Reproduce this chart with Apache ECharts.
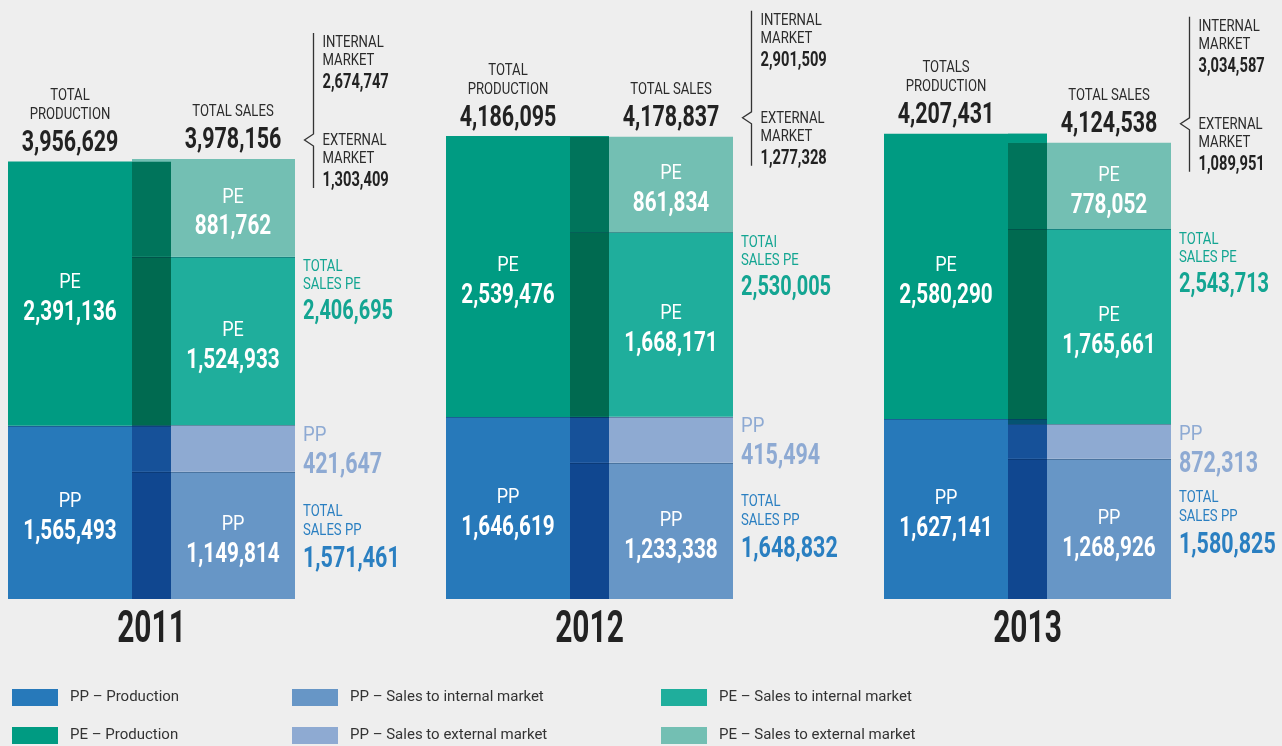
<!DOCTYPE html>
<html>
<head>
<meta charset="utf-8">
<script src="https://cdn.jsdelivr.net/npm/echarts@6/dist/echarts.min.js"></script>
<style>
  html, body { margin: 0; padding: 0; background: #eeeeee; }
  #chart { width: 1282px; height: 746px; }
</style>
</head>
<body>
<div id="chart"></div>
<script>
// values (tonnes)
var years = ['2011', '2012', '2013'];
var ppProduction = [1565493, 1646619, 1627141];
var peProduction = [2391136, 2539476, 2580290];
var ppSalesInternal = [1149814, 1233338, 1268926];
var ppSalesExternal = [421647, 415494, 311899];
var peSalesInternal = [1524933, 1668171, 1765661];
var peSalesExternal = [881762, 861834, 778052];
// printed texts as in the source (incl. its typos)
var ppExternalText = ['421,647', '415,494', '872,313'];
var productionTitle = ['TOTAL', 'TOTAL', 'TOTALS'];
var salesPeTitle = ['TOTAL', 'TOTAI', 'TOTAL'];

var FONT = "Roboto, 'Liberation Sans', sans-serif";
var BAR = 163;      // bar width px
var OVER = 39;      // overlap of production and sales bars
var SX_NUM = 0.74;  // squeeze to mimic the condensed face
var SX_TXT = 0.82;
var colors = {
  ppProd: '#2779ba', peProd: '#009b82',
  ppInt: '#6796c6', ppExt: '#8eaad2',
  peInt: '#1fae9c', peExt: '#73bfb3'
};

function fmt(v) { return v.toLocaleString('en-US'); }

function multiply(a, b) {
  var out = '#';
  for (var k = 1; k < 7; k += 2) {
    var v = Math.round(parseInt(a.substr(k, 2), 16) * parseInt(b.substr(k, 2), 16) / 255);
    out += ('0' + v.toString(16)).slice(-2);
  }
  return out;
}

// cumulative stacks: [[top, color], ...]
function stackOf(parts) {
  var sum = 0;
  return parts.map(function (p) { sum += p[0]; return [sum, p[1]]; });
}
function colorAt(stack, v) {
  for (var k = 0; k < stack.length; k++) if (v < stack[k][0]) return stack[k][1];
  return null;
}
function prodStack(i) {
  return stackOf([[ppProduction[i], colors.ppProd], [peProduction[i], colors.peProd]]);
}
function salesStack(i) {
  return stackOf([[ppSalesInternal[i], colors.ppInt], [ppSalesExternal[i], colors.ppExt],
                  [peSalesInternal[i], colors.peInt], [peSalesExternal[i], colors.peExt]]);
}

function barSeries(name, stack, data, color) {
  return {
    name: name, type: 'bar', stack: stack, data: data,
    barWidth: BAR, barGap: (-OVER / BAR * 100) + '%',
    itemStyle: { color: color }
  };
}

// darker column where production and sales bars overlap
function renderOverlap(params, api) {
  var i = params.dataIndex;
  var cx = api.coord([i, 0])[0];
  var ps = prodStack(i), ss = salesStack(i);
  var edges = [0];
  ps.concat(ss).forEach(function (s) { if (edges.indexOf(s[0]) < 0) edges.push(s[0]); });
  edges.sort(function (a, b) { return a - b; });
  var children = [];
  for (var k = 0; k < edges.length - 1; k++) {
    var lo = edges[k], hi = edges[k + 1], mid = (lo + hi) / 2;
    var pc = colorAt(ps, mid), sc = colorAt(ss, mid);
    var fill = pc && sc ? multiply(pc, sc) : (pc || sc);
    var yTop = api.coord([i, hi])[1], yBot = api.coord([i, lo])[1];
    children.push({ type: 'rect', shape: { x: cx - OVER / 2, y: yTop, width: OVER, height: yBot - yTop }, style: { fill: fill } });
  }
  // thin seams between stacked pieces
  ss.slice(0, 3).forEach(function (s) {
    var y = Math.round(api.coord([i, s[0]])[1]) + 0.5;
    children.push({ type: 'line', shape: { x1: cx - OVER / 2, y1: y, x2: cx + BAR - OVER / 2, y2: y },
      style: { stroke: 'rgba(0,30,60,0.28)', lineWidth: 1 } });
  });
  var yp = Math.round(api.coord([i, ps[0][0]])[1]) + 0.5;
  children.push({ type: 'line', shape: { x1: cx - BAR + OVER / 2, y1: yp, x2: cx + OVER / 2, y2: yp },
    style: { stroke: 'rgba(0,30,60,0.28)', lineWidth: 1 } });
  return { type: 'group', children: children };
}

// text placed by its baseline, squeezed horizontally
function txt(x, baseline, s, size, weight, color, align, sx) {
  return {
    type: 'text', x: x, y: baseline - size * 0.26, scaleX: sx,
    style: { text: s, fill: color, font: weight + ' ' + size + 'px ' + FONT, align: align || 'left', verticalAlign: 'middle' }
  };
}
function segLabel(x, yTop, yBot, tag, value) {
  var mid = (yTop + yBot) / 2;
  return [
    txt(x, mid - 5, tag, 20, 'normal', '#fff', 'center', 0.9),
    txt(x, mid + 27, value, 28, 'bold', '#fff', 'center', SX_NUM)
  ];
}

// labels in the bars, totals above, figures on the right and the market brace
function renderNotes(params, api) {
  var i = params.dataIndex;
  var base = api.coord([i, 0]);
  var cx = base[0], y0 = base[1];
  var ps = prodStack(i), ss = salesStack(i);
  var prodMid = api.coord([i, ps[0][0]])[1];
  var prodTop = api.coord([i, ps[1][0]])[1];
  var salesTop = api.coord([i, ss[3][0]])[1];
  var peIntTop = api.coord([i, ss[2][0]])[1];
  var ppExtTop = api.coord([i, ss[1][0]])[1];
  var ppIntTop = api.coord([i, ss[0][0]])[1];
  var pMid = cx - OVER / 2 - (BAR - OVER) / 2;
  var sMid = cx + OVER / 2 + (BAR - OVER) / 2;
  var right = cx + BAR - OVER / 2 + 8;
  var ink = '#2b2b2b';
  var internal = ppSalesInternal[i] + peSalesInternal[i];
  var external = ppSalesExternal[i] + peSalesExternal[i];
  var c = [].concat(
    segLabel(pMid, prodMid, y0, 'PP', fmt(ppProduction[i])),
    segLabel(pMid, prodTop, prodMid, 'PE', fmt(peProduction[i])),
    segLabel(sMid, ppIntTop, y0, 'PP', fmt(ppSalesInternal[i])),
    segLabel(sMid, peIntTop, ppExtTop, 'PE', fmt(peSalesInternal[i])),
    segLabel(sMid, salesTop, peIntTop, 'PE', fmt(peSalesExternal[i])),
    [
      txt(pMid, prodTop - 61, productionTitle[i], 16, 'normal', ink, 'center', SX_TXT),
      txt(pMid, prodTop - 42, 'PRODUCTION', 16, 'normal', ink, 'center', SX_TXT),
      txt(pMid, prodTop - 10, fmt(ps[1][0]), 29, 'bold', '#222', 'center', SX_NUM),
      txt(sMid, salesTop - 43, 'TOTAL SALES', 16, 'normal', ink, 'center', SX_TXT),
      txt(sMid, salesTop - 11, fmt(ss[3][0]), 29, 'bold', '#222', 'center', SX_NUM),

      txt(right, peIntTop + 15, salesPeTitle[i], 16, 'normal', '#13a592', 'left', SX_TXT),
      txt(right, peIntTop + 33, 'SALES PE', 16, 'normal', '#13a592', 'left', SX_TXT),
      txt(right, peIntTop + 63, fmt(peSalesInternal[i] + peSalesExternal[i]), 27, 'bold', '#13a592', 'left', SX_NUM),

      txt(right, ppExtTop + 16, 'PP', 21, 'normal', '#8eaad3', 'left', 0.88),
      txt(right, ppExtTop + 48, ppExternalText[i], 29, 'bold', '#8eaad3', 'left', SX_NUM),

      txt(right, ppIntTop + 44, 'TOTAL', 16, 'normal', '#2a7fc1', 'left', SX_TXT),
      txt(right, ppIntTop + 63, 'SALES PP', 16, 'normal', '#2a7fc1', 'left', SX_TXT),
      txt(right, ppIntTop + 95, fmt(ppSalesInternal[i] + ppSalesExternal[i]), 29, 'bold', '#2a7fc1', 'left', SX_NUM),

      txt(cx, y0 + 43, years[i], 44, 'bold', '#222', 'center', 0.68)
    ]
  );
  var lx = Math.round(cx + BAR - OVER / 2 + 18) + 0.5, n = salesTop - 19;
  c.push({ type: 'polyline', shape: { points: [[lx, salesTop - 126], [lx, n - 6], [lx - 9, n], [lx, n + 6], [lx, salesTop + 29]] },
    style: { stroke: '#333', lineWidth: 1.3, fill: null } });
  var tx = lx + 9;
  c.push(txt(tx, salesTop - 112, 'INTERNAL', 16, 'normal', ink, 'left', SX_TXT));
  c.push(txt(tx, salesTop - 94, 'MARKET', 16, 'normal', ink, 'left', SX_TXT));
  c.push(txt(tx, salesTop - 71, fmt(internal), 21, 'bold', '#222', 'left', 0.7));
  c.push(txt(tx, salesTop - 14, 'EXTERNAL', 16, 'normal', ink, 'left', SX_TXT));
  c.push(txt(tx, salesTop + 4, 'MARKET', 16, 'normal', ink, 'left', SX_TXT));
  c.push(txt(tx, salesTop + 27, fmt(external), 21, 'bold', '#222', 'left', 0.7));
  return { type: 'group', children: c };
}

var legendText = { fontFamily: FONT, fontSize: 15, color: '#333', lineHeight: 17, padding: [0, 0, 0, 7] };
function legendCol(left, names) {
  return { data: names, left: left, top: 689, padding: 0, orient: 'vertical', itemWidth: 46, itemHeight: 17, itemGap: 21,
    icon: 'rect', selectedMode: false, textStyle: legendText };
}

var chart = echarts.init(document.getElementById('chart'));
chart.setOption({
  backgroundColor: '#eeeeee',
  animation: false,
  grid: { left: -67.5, right: 35.5, top: 46, bottom: 147, outerBoundsMode: 'none' },
  legend: [
    legendCol(12, ['PP – Production', 'PE – Production']),
    legendCol(292, ['PP – Sales to internal market', 'PP – Sales to external market']),
    legendCol(661, ['PE – Sales to internal market', 'PE – Sales to external market'])
  ],
  xAxis: {
    type: 'category', data: years,
    axisLine: { show: false }, axisTick: { show: false }, axisLabel: { show: false }
  },
  yAxis: { type: 'value', min: 0, max: 5000000, show: false },
  series: [
    barSeries('PP – Production', 'prod', ppProduction, colors.ppProd),
    barSeries('PE – Production', 'prod', peProduction, colors.peProd),
    barSeries('PP – Sales to internal market', 'sales', ppSalesInternal, colors.ppInt),
    barSeries('PP – Sales to external market', 'sales', ppSalesExternal, colors.ppExt),
    barSeries('PE – Sales to internal market', 'sales', peSalesInternal, colors.peInt),
    barSeries('PE – Sales to external market', 'sales', peSalesExternal, colors.peExt),
    { type: 'custom', data: [0, 1, 2], renderItem: renderOverlap, silent: true, z: 3 },
    { type: 'custom', data: [0, 1, 2], renderItem: renderNotes, silent: true, z: 4, clip: false }
  ]
});
</script>
</body>
</html>
